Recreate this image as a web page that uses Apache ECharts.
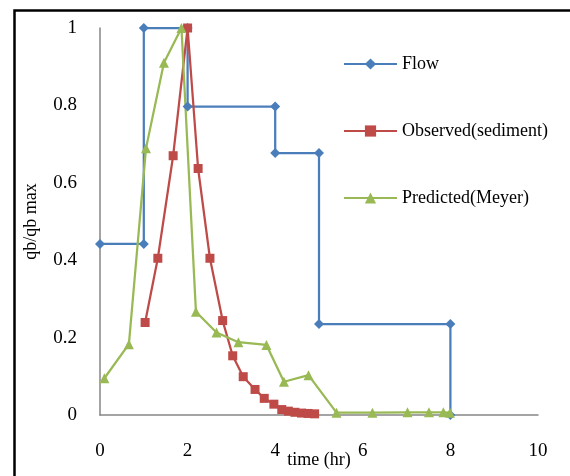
<!DOCTYPE html>
<html><head><meta charset="utf-8">
<script src="https://cdn.jsdelivr.net/npm/echarts@6/dist/echarts.min.js"></script>
<style>html,body{margin:0;padding:0;background:#fff}#c{width:570px;height:476px}</style>
</head><body><div id="c"></div>
<script>
const flowX = [0, 1, 1, 2, 2, 4, 4, 5, 5, 8, 8];
const flowY = [0.442, 0.442, 1, 1, 0.797, 0.797, 0.677, 0.677, 0.235, 0.235, 0];
const obsX = [1.03, 1.32, 1.67, 2.0, 2.24, 2.51, 2.8, 3.03, 3.27, 3.54, 3.75, 3.97, 4.15, 4.3, 4.45, 4.6, 4.75, 4.9];
const obsY = [0.239, 0.405, 0.67, 1.0, 0.637, 0.405, 0.244, 0.153, 0.099, 0.066, 0.043, 0.028, 0.014, 0.01, 0.007, 0.005, 0.004, 0.003];
const predX = [0.1, 0.66, 1.05, 1.46, 1.86, 2.19, 2.66, 3.16, 3.8, 4.2, 4.76, 5.4, 6.22, 7.02, 7.51, 7.84, 7.99];
const predY = [0.095, 0.183, 0.689, 0.91, 1.0, 0.267, 0.213, 0.188, 0.181, 0.086, 0.103, 0.006, 0.006, 0.007, 0.007, 0.007, 0.006];
const xTicks = [0, 2, 4, 6, 8, 10];
const yTicks = [0, 0.2, 0.4, 0.6, 0.8, 1];
const seriesNames = ['Flow', 'Observed(sediment)', 'Predicted(Meyer)'];

const FONT = '"Liberation Serif", "Times New Roman", serif';
const zip = (a, b) => a.map((v, i) => [v, b[i]]);
const chart = echarts.init(document.getElementById('c'), null, {renderer: 'canvas'});
chart.setOption({
  animation: false,
  backgroundColor: '#fff',
  textStyle: {fontFamily: FONT, color: '#000'},
  grid: {left: 100, right: 32, top: 28, bottom: 61, containLabel: false, outerBoundsMode: 'none'},
  graphic: [{
    type: 'rect', silent: true,
    shape: {x: 14.5, y: 10.5, width: 600, height: 500},
    style: {fill: 'none', stroke: '#000', lineWidth: 2.5}
  }],
  legend: {
    orient: 'vertical', left: 343, top: 54, padding: 0,
    itemWidth: 53, itemHeight: 14, itemGap: 47,
    textStyle: {fontFamily: FONT, fontSize: 18, color: '#000', lineHeight: 20},
    data: seriesNames
  },
  xAxis: {
    type: 'value', min: 0, max: 10, interval: 2,
    name: 'time (hr)', nameLocation: 'middle', nameGap: 36, nameMoveOverlap: false,
    nameTextStyle: {fontFamily: FONT, fontSize: 18, color: '#000'},
    axisLine: {show: true, lineStyle: {color: '#868686', width: 1.5}},
    axisTick: {show: false}, splitLine: {show: false},
    axisLabel: {fontFamily: FONT, fontSize: 19, color: '#000', margin: 27,
      customValues: xTicks, formatter: v => String(v)}
  },
  yAxis: {
    type: 'value', min: 0, max: 1, interval: 0.2,
    name: 'qb/qb max', nameLocation: 'middle', nameGap: 60, nameRotate: 90, nameMoveOverlap: false,
    nameTextStyle: {fontFamily: FONT, fontSize: 18, color: '#000'},
    axisLine: {show: true, lineStyle: {color: '#868686', width: 1.5}},
    axisTick: {show: false}, splitLine: {show: false},
    axisLabel: {fontFamily: FONT, fontSize: 19, color: '#000', margin: 23,
      customValues: yTicks, formatter: v => String(Math.round(v * 10) / 10)}
  },
  series: [
    {name: seriesNames[0], type: 'line', data: zip(flowX, flowY),
      symbol: 'diamond', symbolSize: 10, showAllSymbol: true,
      itemStyle: {color: '#4A7EBB'}, lineStyle: {color: '#4A7EBB', width: 2.25}},
    {name: seriesNames[1], type: 'line', data: zip(obsX, obsY),
      symbol: 'rect', symbolSize: 9, showAllSymbol: true,
      itemStyle: {color: '#BE4B48'}, lineStyle: {color: '#BE4B48', width: 2.25}},
    {name: seriesNames[2], type: 'line', data: zip(predX, predY),
      symbol: 'triangle', symbolSize: 10, showAllSymbol: true,
      itemStyle: {color: '#98B954'}, lineStyle: {color: '#98B954', width: 2.25}}
  ]
});
</script></body></html>
